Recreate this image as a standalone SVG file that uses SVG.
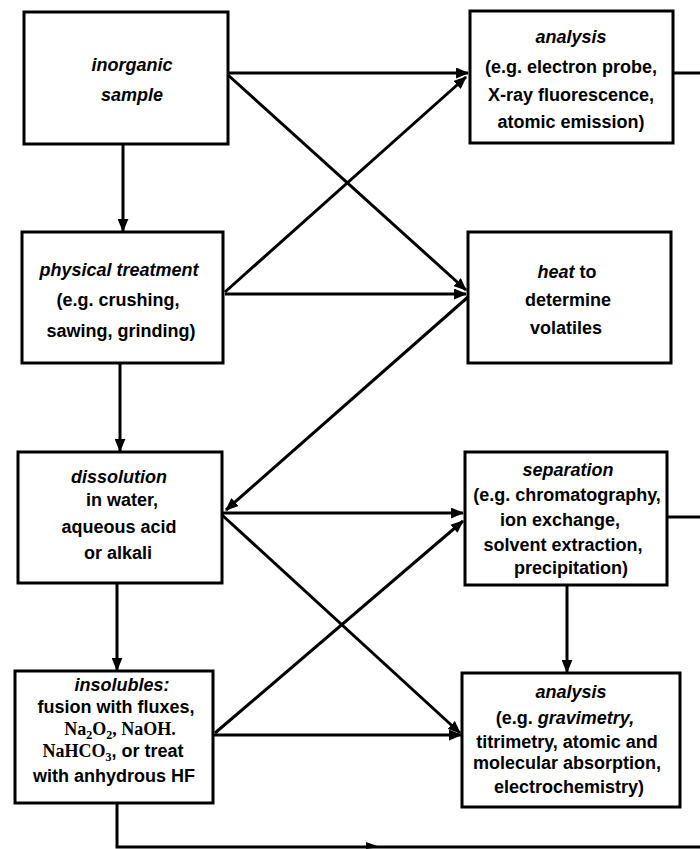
<svg xmlns="http://www.w3.org/2000/svg" width="700" height="849" viewBox="0 0 700 849">
<style>
.box{fill:#fff;stroke:#000;stroke-width:3}
.t{font-family:"Liberation Sans",Arial,sans-serif;font-weight:bold;font-size:18px;fill:#000;text-anchor:middle}
.i{font-style:italic}
.s{font-family:"Liberation Serif","Times New Roman",serif}
.c{fill:none;stroke:#000;stroke-width:3}
</style>
<defs>
<marker id="ah" viewBox="0 0 12 10" refX="11" refY="5" markerWidth="13" markerHeight="11" markerUnits="userSpaceOnUse" orient="auto">
<path d="M0,0 L12,5 L0,10 z" fill="#000"/>
</marker>
</defs>
<rect width="700" height="849" fill="#fff"/>
<g id="connectors">
<line class="c" x1="228" y1="73" x2="468" y2="73" marker-end="url(#ah)"/>
<line class="c" x1="228" y1="75" x2="466" y2="290" marker-end="url(#ah)"/>
<line class="c" x1="123" y1="144" x2="123" y2="231" marker-end="url(#ah)"/>
<line class="c" x1="225" y1="292" x2="466" y2="77" marker-end="url(#ah)"/>
<line class="c" x1="225" y1="294" x2="466" y2="294" marker-end="url(#ah)"/>
<line class="c" x1="468" y1="297" x2="226" y2="510" marker-end="url(#ah)"/>
<line class="c" x1="120" y1="363" x2="120" y2="451" marker-end="url(#ah)"/>
<line class="c" x1="222" y1="513" x2="463" y2="513" marker-end="url(#ah)"/>
<line class="c" x1="222" y1="515" x2="460" y2="733" marker-end="url(#ah)"/>
<line class="c" x1="117" y1="583" x2="117" y2="670" marker-end="url(#ah)"/>
<line class="c" x1="215" y1="733" x2="463" y2="521" marker-end="url(#ah)"/>
<line class="c" x1="213" y1="735" x2="461" y2="735" marker-end="url(#ah)"/>
<line class="c" x1="567" y1="585" x2="567" y2="672" marker-end="url(#ah)"/>
<line class="c" x1="673" y1="73" x2="700" y2="73"/>
<line class="c" x1="667" y1="517" x2="700" y2="517"/>
<polyline class="c" points="117,803 117,847 700,847"/>
<path d="M366,842 L380,847 L366,849 z" fill="#000"/>
</g>
<g id="inorganic-sample">
<rect class="box" x="24" y="12" width="204" height="132"/>
<text class="t i" x="132" y="71">inorganic</text>
<text class="t i" x="132" y="101">sample</text>
</g>
<g id="analysis-1">
<rect class="box" x="470" y="11" width="203" height="132"/>
<text class="t i" x="571" y="43">analysis</text>
<text class="t" x="571" y="73">(e.g. electron probe,</text>
<text class="t" x="571" y="101">X-ray fluorescence,</text>
<text class="t" x="571" y="128">atomic emission)</text>
</g>
<g id="physical-treatment">
<rect class="box" x="22" y="232" width="201" height="131"/>
<text class="t i" x="119" y="276">physical treatment</text>
<text class="t" x="118" y="306">(e.g. crushing,</text>
<text class="t" x="121" y="337">sawing, grinding)</text>
</g>
<g id="heat">
<rect class="box" x="468" y="232" width="203" height="131"/>
<text class="t" x="567" y="278"><tspan class="i">heat</tspan> to</text>
<text class="t" x="568" y="306">determine</text>
<text class="t" x="566" y="334">volatiles</text>
</g>
<g id="dissolution">
<rect class="box" x="18" y="452" width="204" height="131"/>
<text class="t i" x="119" y="483">dissolution</text>
<text class="t" x="122" y="506">in water,</text>
<text class="t" x="119" y="533">aqueous acid</text>
<text class="t" x="118" y="559">or alkali</text>
</g>
<g id="separation">
<rect class="box" x="465" y="452" width="202" height="133"/>
<text class="t i" x="568" y="476">separation</text>
<text class="t" x="567" y="501">(e.g. chromatography,</text>
<text class="t" x="560" y="526">ion exchange,</text>
<text class="t" x="563" y="551">solvent extraction,</text>
<text class="t" x="571" y="574">precipitation)</text>
</g>
<g id="insolubles">
<rect class="box" x="15" y="671" width="198" height="132"/>
<text class="t i" x="122" y="691">insolubles:</text>
<text class="t" x="116" y="713">fusion with fluxes,</text>
<text class="t s" x="120" y="735">Na<tspan font-size="12" dy="4">2</tspan><tspan dy="-4">O</tspan><tspan font-size="12" dy="4">2</tspan><tspan dy="-4">, NaOH.</tspan></text>
<text class="t" x="113" y="757"><tspan class="s">NaHCO</tspan><tspan class="s" font-size="12" dy="4">3</tspan><tspan dy="-4">, or treat</tspan></text>
<text class="t" x="114" y="782">with anhydrous HF</text>
</g>
<g id="analysis-2">
<rect class="box" x="462" y="673" width="218" height="134"/>
<text class="t i" x="571" y="698">analysis</text>
<text class="t" x="565" y="724">(e.g. <tspan class="i">gravimetry,</tspan></text>
<text class="t" x="567" y="748">titrimetry, atomic and</text>
<text class="t" x="567" y="769">molecular absorption,</text>
<text class="t" x="569" y="793">electrochemistry)</text>
</g>
</svg>
